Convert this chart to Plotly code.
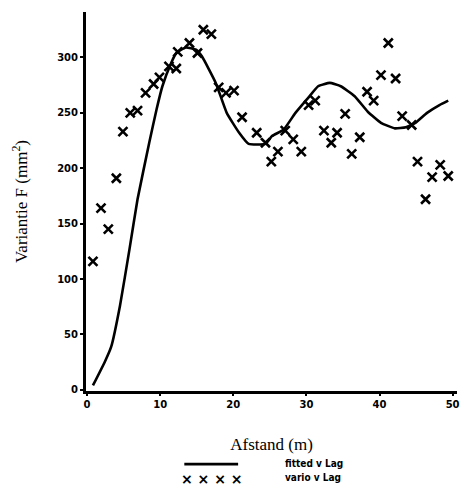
import plotly.graph_objects as go

# Experimental variogram (crosses): distance lag (m) and variance F (mm^2)
lag_obs = [0.8, 1.9, 2.9, 4.0, 4.9, 5.9, 6.9, 8.0, 9.1, 9.9, 11.2, 12.2, 12.4,
           14.0, 15.1, 15.9, 17.0, 18.0, 19.0, 20.1, 21.2, 23.2, 24.4, 25.2,
           26.1, 27.1, 28.2, 29.3, 30.3, 31.2, 32.4, 33.4, 34.2, 35.3, 36.2,
           37.3, 38.3, 39.2, 40.2, 41.2, 42.2, 43.1, 44.4, 45.2, 46.3, 47.2,
           48.3, 49.4]
var_obs = [116, 164, 145, 191, 233, 250, 252, 268, 276, 282, 292, 290, 305,
           313, 304, 325, 321, 273, 268, 270, 246, 232, 223, 206,
           215, 234, 226, 215, 257, 261, 234, 223, 232, 249, 213,
           228, 269, 261, 284, 313, 281, 247, 239, 206, 172, 192,
           203, 193]

# Fitted variogram curve
lag_fit = [0.8, 2.4, 3.3, 4.5, 5.8, 6.9, 8.5, 9.5, 10.3, 11.5, 12.2, 13.5,
           14.9, 15.7, 17.6, 19.1, 20.8, 22.1, 24.4, 25.3, 26.9, 28.5, 30.3,
           31.6, 33.2, 34.7, 36.6, 38.4, 40.2, 42.1, 43.6, 44.9, 46.5, 48.2,
           49.4]
var_fit = [4, 25, 39, 76, 127, 172, 223, 253, 274, 295, 304, 309,
           307, 301, 277, 250, 232, 222, 222, 229, 235, 250, 264,
           274, 277, 274, 265, 251, 241, 236, 237, 241, 250, 257,
           261]

x_ticks = [0, 10, 20, 30, 40, 50]
y_ticks = [0, 50, 100, 150, 200, 250, 300]

fig = go.Figure()
fig.add_trace(go.Scatter(x=lag_fit, y=var_fit, mode="lines",
                         line=dict(color="black", width=2.6, shape="spline", smoothing=0.4),
                         showlegend=False))
fig.add_trace(go.Scatter(x=lag_obs, y=var_obs, mode="markers",
                         marker=dict(symbol="x-thin", size=9, color="black",
                                     line=dict(color="black", width=2.6)),
                         showlegend=False))

tick_font = dict(family="DejaVu Sans", size=10, color="black")
fig.update_xaxes(range=[-0.15, 50.6], tickvals=x_ticks,
                 ticktext=[f"<b>{v}</b>" for v in x_ticks],
                 showline=True, linecolor="black", linewidth=3,
                 ticks="outside", ticklen=2, tickwidth=2, tickcolor="black",
                 ticklabelstandoff=0,
                 showgrid=False, zeroline=False, tickfont=tick_font,
                 title=dict(text="Afstand (m)", standoff=30,
                            font=dict(family="Liberation Serif", size=17, color="black")))
fig.update_yaxes(range=[-1, 341], tickvals=y_ticks,
                 ticktext=[f"<b>{v}</b>" for v in y_ticks],
                 showline=True, linecolor="black", linewidth=3,
                 ticks="outside", ticklen=3, tickwidth=2, tickcolor="black",
                 showgrid=False, zeroline=False, tickfont=tick_font,
                 title=dict(text="Variantie F (mm<sup>2</sup>)", standoff=26,
                            font=dict(family="Liberation Serif", size=17, color="black")))

# Hand-drawn key below the plot
fig.add_shape(type="line", xref="paper", yref="paper",
              x0=0.265, x1=0.41, y0=-0.193, y1=-0.193,
              line=dict(color="black", width=2.6))
fig.add_annotation(xref="paper", yref="paper", x=0.34, y=-0.232, yanchor="middle",
                   text="<b>× × × ×</b>", showarrow=False,
                   font=dict(family="DejaVu Sans", size=14, color="black"))
fig.add_annotation(xref="paper", yref="paper", x=0.53, y=-0.19, xanchor="left",
                   yanchor="middle", text="<b>fitted v Lag</b>", showarrow=False,
                   font=dict(family="DejaVu Sans Condensed", size=10, color="black"))
fig.add_annotation(xref="paper", yref="paper", x=0.53, y=-0.228, xanchor="left",
                   yanchor="middle", text="<b>vario v Lag</b>", showarrow=False,
                   font=dict(family="DejaVu Sans Condensed", size=10, color="black"))

fig.update_layout(width=466, height=492,
                  margin=dict(l=86, r=6, t=12, b=101),
                  plot_bgcolor="white", paper_bgcolor="white")

fig.write_html("out.html")
